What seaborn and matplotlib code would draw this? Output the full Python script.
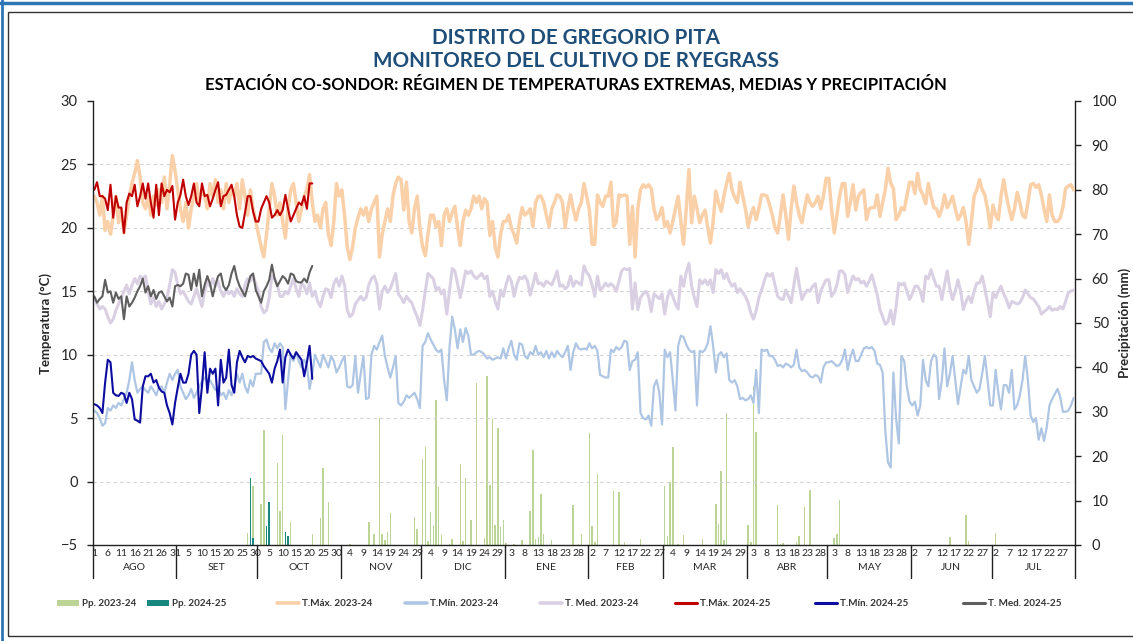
import numpy as np
import matplotlib
matplotlib.use("Agg")
import matplotlib.pyplot as plt
import matplotlib.transforms as mtransforms
import seaborn as sns
from matplotlib import font_manager
from matplotlib.patches import Patch, Rectangle
from matplotlib.lines import Line2D

# ---- datos ----
meses = ["AGO", "SET", "OCT", "NOV", "DIC", "ENE", "FEB", "MAR", "ABR", "MAY", "JUN", "JUL"]
dias_mes = [31, 30, 31, 30, 31, 31, 28, 31, 30, 31, 30, 31]

# T. max 2023-24 (diaria, ago -> jul)
tmax_2324 = [
    22.5, 22.0, 21.0, 22.5, 19.8, 20.5, 19.5, 21.0, 22.5, 20.4, 21.5, 19.6, 21.0, 22.5, 23.5, 24.3, 25.3, 24.0, 22.0, 21.5, 22.5, 21.0, 22.5, 21.8, 23.0, 22.0, 24.0, 21.5, 23.5, 25.7, 24.5,
    23.0, 21.5, 20.5, 22.0, 20.0, 21.5, 22.5, 23.5, 22.0, 23.0, 22.5, 21.5, 23.5, 22.5, 23.8, 22.0, 23.0, 21.5, 23.5, 22.0, 23.0, 22.5, 23.5, 21.5, 23.8, 22.5, 21.0, 23.0, 21.5, 20.5,
    19.5, 18.5, 17.7, 19.5, 21.5, 23.5, 22.5, 21.0, 22.0, 20.5, 19.2, 21.5, 23.0, 23.5, 22.0, 20.5, 21.5, 22.5, 23.0, 24.2, 22.0, 20.5, 21.0, 20.0, 21.5, 22.0, 19.5, 18.6, 20.5, 23.5, 22.5,
    23.0, 21.0, 18.5, 17.5, 18.5, 20.0, 20.8, 21.5, 21.0, 21.6, 20.5, 21.5, 22.0, 22.5, 17.7, 19.5, 20.5, 21.5, 20.5, 22.5, 23.5, 24.0, 23.8, 21.4, 23.6, 20.5, 19.6, 21.5, 22.5, 20.0,
    18.5, 17.8, 19.5, 21.0, 21.0, 20.1, 20.5, 18.6, 21.0, 21.5, 20.5, 21.2, 21.7, 20.0, 18.6, 20.5, 21.4, 21.0, 21.5, 22.5, 22.0, 22.5, 21.5, 22.3, 22.0, 19.4, 20.5, 18.5, 17.7, 19.5, 20.5,
    20.5, 21.0, 20.0, 19.5, 18.8, 20.5, 21.6, 21.0, 21.2, 21.5, 20.1, 22.0, 22.5, 22.5, 22.0, 21.0, 20.1, 21.5, 22.0, 22.6, 22.5, 22.0, 20.0, 21.5, 22.6, 21.5, 20.6, 21.5, 22.0, 23.5, 22.5,
    21.4, 18.7, 18.7, 22.6, 22.0, 21.7, 22.5, 22.5, 23.6, 20.1, 20.5, 22.6, 22.5, 22.6, 22.5, 18.7, 21.7, 17.7, 21.5, 23.0, 23.4, 23.2, 23.4, 23.1, 21.5, 20.65, 21.0, 21.6,
    20.1, 20.5, 19.6, 20.5, 21.5, 22.5, 20.5, 18.7, 21.5, 24.6, 20.4, 22.5, 21.5, 20.4, 21.0, 21.4, 20.0, 18.8, 20.5, 22.9, 22.0, 21.3, 22.5, 23.5, 24.3, 23.0, 22.4, 22.0, 23.6, 22.5, 21.5,
    20.1, 21.0, 21.6, 20.65, 21.5, 22.6, 22.6, 22.5, 21.8, 21.0, 20.0, 19.6, 21.0, 22.6, 21.0, 19.1, 21.5, 23.3, 22.0, 21.0, 20.4, 21.5, 22.6, 22.0, 21.7, 22.0, 22.5, 21.5, 22.5, 23.9,
    23.9, 21.5, 19.6, 21.0, 22.5, 23.5, 23.5, 20.9, 22.0, 23.4, 21.4, 22.5, 22.8, 23.0, 20.65, 21.5, 21.6, 21.6, 22.6, 20.9, 22.0, 23.0, 24.7, 23.5, 23.1, 20.65, 21.0, 21.6, 21.4, 22.5, 23.6,
    23.6, 22.7, 24.3, 23.0, 22.6, 21.9, 23.5, 22.5, 21.6, 21.5, 20.9, 21.5, 22.6, 21.6, 22.0, 22.5, 21.5, 20.65, 21.0, 21.6, 20.5, 18.7, 20.5, 22.5, 23.0, 23.8, 23.0, 22.6, 21.5, 20.0,
    21.8, 21.0, 20.65, 22.5, 23.8, 22.5, 21.5, 20.65, 21.5, 22.8, 22.0, 21.0, 20.8, 22.0, 23.4, 23.5, 23.2, 23.4, 22.6, 21.5, 20.5, 22.6, 21.0, 20.5, 20.5, 20.8, 21.6, 23.1, 23.3, 23.4, 23.0,
]

# T. media 2023-24
tmed_2324 = [
    14.5, 14.0, 13.6, 13.8, 13.6, 13.0, 12.5, 12.8, 13.5, 14.0, 14.5, 15.0, 15.5, 14.8, 15.5, 16.0, 15.6, 16.2, 16.0, 16.2, 15.0, 14.0, 14.5, 13.8, 14.2, 13.6, 14.0, 14.5, 15.5, 16.7, 16.5,
    15.5, 14.8, 15.0, 14.6, 14.2, 14.0, 14.6, 15.2, 14.5, 13.8, 15.0, 15.8, 15.4, 16.0, 15.4, 15.8, 15.0, 14.6, 15.2, 14.8, 15.0, 14.6, 15.2, 14.8, 14.6, 15.5, 16.0, 15.8, 16.2, 15.6,
    15.0, 13.8, 13.3, 13.5, 14.5, 16.2, 16.0, 15.5, 14.6, 14.6, 15.0, 14.8, 15.4, 16.0, 15.2, 14.6, 15.65, 15.4, 14.8, 15.65, 14.6, 15.0, 14.2, 13.8, 14.6, 15.2, 15.1, 14.5, 15.6, 16.0, 15.4,
    16.2, 15.5, 13.5, 13.0, 13.2, 14.0, 14.3, 14.6, 14.3, 14.5, 15.5, 16.0, 16.2, 15.6, 13.6, 15.0, 15.4, 14.9, 15.2, 15.8, 16.4, 14.8, 14.5, 14.1, 14.6, 14.3, 14.1, 13.5, 13.0, 12.3,
    13.5, 15.0, 16.4, 16.2, 16.0, 15.1, 15.3, 14.8, 15.1, 13.2, 15.0, 16.8, 16.6, 15.6, 14.5, 15.5, 16.6, 16.4, 16.6, 16.2, 16.0, 16.2, 16.4, 16.0, 16.2, 14.6, 15.0, 14.2, 13.6, 15.1, 14.6,
    15.5, 16.2, 15.8, 14.6, 15.5, 16.1, 16.0, 16.2, 15.8, 14.7, 15.5, 16.4, 15.6, 15.65, 15.4, 15.8, 15.65, 15.5, 16.0, 16.6, 15.4, 15.5, 15.2, 15.4, 16.2, 15.4, 15.8, 15.65, 15.5, 17.0, 16.5,
    16.2, 15.5, 14.6, 16.2, 15.1, 15.3, 15.65, 15.4, 15.6, 15.4, 15.0, 15.8, 16.6, 16.8, 16.7, 16.8, 13.6, 15.65, 13.55, 14.5, 14.8, 15.0, 14.6, 13.4, 14.8, 14.6, 14.4, 14.8,
    13.2, 14.5, 15.1, 14.6, 14.0, 13.6, 16.2, 15.4, 16.5, 17.2, 15.4, 14.5, 13.8, 15.9, 15.6, 15.9, 15.5, 15.9, 14.9, 16.7, 16.4, 16.7, 16.0, 16.4, 15.8, 15.4, 15.6, 14.9, 15.2, 14.9, 14.6,
    14.1, 13.3, 12.8, 13.5, 14.5, 15.1, 15.8, 16.4, 16.2, 16.4, 15.5, 14.6, 14.4, 14.35, 15.1, 14.6, 14.1, 15.5, 16.8, 15.5, 14.35, 14.8, 15.1, 15.0, 15.4, 15.6, 14.1, 15.0, 15.5, 15.9,
    15.9, 14.6, 14.9, 15.5, 16.6, 16.6, 16.3, 14.9, 15.6, 16.2, 15.9, 16.0, 15.65, 15.8, 15.4, 15.8, 16.3, 15.5, 14.75, 13.55, 13.0, 12.4, 12.6, 13.5, 12.4, 13.8, 15.65, 15.5, 15.65, 15.0, 14.35,
    14.8, 15.4, 15.4, 15.0, 14.2, 16.2, 16.0, 16.7, 16.0, 15.4, 15.4, 14.35, 15.5, 16.6, 15.2, 14.35, 15.0, 15.9, 15.0, 13.55, 14.2, 14.6, 14.1, 15.0, 15.65, 15.65, 16.2, 15.2, 14.1, 13.0,
    14.9, 14.5, 15.0, 15.4, 14.8, 14.35, 13.7, 14.2, 14.1, 14.0, 14.1, 14.5, 15.1, 14.8, 14.5, 14.4, 14.1, 13.8, 13.2, 13.4, 13.55, 13.8, 13.5, 13.6, 13.55, 13.8, 13.6, 14.2, 14.9, 15.0, 15.1,
]

# T. min 2023-24
tmin_2324 = [
    5.6, 5.4, 5.0, 4.4, 4.6, 5.8, 5.6, 6.0, 5.8, 6.2, 6.0, 6.5, 7.0, 8.0, 9.4, 8.0, 7.0, 7.3, 7.5, 7.2, 7.0, 7.5, 7.2, 6.8, 7.4, 7.5, 7.0, 7.8, 8.5, 8.0, 8.5,
    8.8, 7.5, 7.0, 6.5, 6.8, 7.3, 6.6, 7.0, 7.5, 7.9, 8.2, 7.9, 8.0, 7.6, 7.2, 7.5, 6.8, 7.0, 6.5, 7.2, 6.8, 7.5, 8.5, 7.8, 8.5, 7.5, 7.0, 8.0, 7.5, 8.5,
    8.5, 8.5, 11.0, 11.2, 10.5, 10.2, 10.9, 10.5, 10.9, 10.6, 5.7, 8.0, 10.0, 9.5, 10.2, 9.5, 9.0, 9.6, 9.2, 7.3, 8.5, 10.0, 9.5, 9.0, 10.0, 9.5, 9.0, 9.9, 9.5, 8.6, 9.0,
    9.5, 9.9, 7.5, 7.4, 7.6, 9.9, 7.0, 8.5, 9.9, 6.5, 6.6, 10.0, 10.7, 10.4, 11.0, 11.5, 9.9, 9.0, 8.2, 9.0, 9.9, 6.2, 6.0, 6.3, 6.8, 6.6, 6.8, 7.0, 6.5, 5.8,
    10.7, 11.0, 11.7, 11.2, 10.8, 10.4, 10.2, 10.4, 8.0, 6.4, 10.5, 13.0, 12.0, 10.5, 12.0, 11.0, 12.1, 11.5, 10.0, 10.0, 10.2, 10.3, 10.2, 10.0, 9.7, 9.8, 9.6, 9.7, 9.8, 9.7, 10.5,
    9.7, 10.5, 11.1, 10.0, 9.6, 10.9, 10.8, 9.9, 9.7, 10.2, 10.0, 10.7, 10.0, 10.2, 9.8, 10.3, 9.7, 10.2, 9.8, 10.3, 10.0, 9.8, 10.2, 10.7, 8.8, 10.2, 10.9, 10.5, 10.4, 10.5, 10.4,
    10.9, 10.5, 10.7, 10.3, 8.4, 8.3, 8.2, 8.2, 10.4, 10.2, 10.6, 10.4, 10.6, 11.1, 11.0, 8.8, 9.5, 9.6, 10.2, 5.4, 5.0, 4.9, 5.2, 4.4, 7.5, 8.0, 7.0, 4.5,
    10.4, 9.8, 10.2, 8.0, 5.6, 10.7, 11.5, 11.4, 10.8, 10.4, 10.2, 10.3, 6.0, 10.3, 10.2, 10.4, 10.9, 12.25, 10.7, 8.6, 10.0, 10.2, 9.8, 10.1, 8.0, 7.8, 8.0, 7.5, 6.5, 6.6, 6.4,
    6.5, 6.8, 6.2, 8.8, 5.4, 10.4, 10.3, 10.4, 9.9, 9.9, 9.6, 9.1, 9.2, 9.0, 9.3, 9.2, 9.0, 9.2, 10.4, 9.0, 8.7, 8.8, 8.6, 8.3, 8.2, 8.4, 8.3, 7.8, 9.0, 9.4,
    9.4, 9.5, 9.3, 9.1, 9.2, 9.6, 10.4, 8.8, 9.8, 10.4, 9.5, 9.5, 10.0, 10.5, 10.6, 10.5, 10.6, 10.3, 9.3, 9.2, 8.6, 4.0, 1.5, 1.1, 8.6, 5.0, 3.0, 9.9, 9.5, 7.5, 6.3,
    6.0, 6.3, 5.2, 6.0, 9.6, 8.0, 7.5, 9.5, 10.0, 9.8, 6.5, 8.0, 10.5, 7.5, 8.5, 9.9, 8.0, 6.1, 7.5, 8.8, 8.5, 9.9, 8.0, 7.5, 7.0, 7.3, 8.5, 9.9, 8.0, 6.0,
    6.0, 8.8, 7.0, 5.7, 7.6, 7.6, 7.0, 8.8, 5.7, 6.0, 6.8, 8.0, 9.9, 8.0, 5.2, 4.7, 5.0, 3.3, 4.2, 3.2, 4.3, 6.0, 6.5, 6.9, 7.3, 6.7, 5.5, 5.5, 5.6, 6.0, 6.6,
]

# campaña 2024-25 (1 ago - 21 oct)
tmax_2425 = [
    23.0, 23.6, 22.5, 22.5, 22.3, 21.4, 23.4, 20.8, 22.5, 21.6, 21.6, 19.6, 22.0, 22.7, 22.5, 23.4, 21.7, 22.5, 23.5, 22.3,
    23.5, 22.0, 20.8, 23.4, 21.0, 23.5, 22.5, 23.0, 22.8, 23.3, 20.65, 22.0, 22.6, 23.8, 22.5, 21.8, 22.5, 23.5, 22.0, 21.7,
    23.5, 22.5, 22.6, 21.7, 22.3, 23.0, 23.6, 21.7, 22.5, 22.6, 23.0, 23.4, 22.5, 21.0, 20.1, 20.0, 21.2, 22.5, 22.5, 21.3,
    20.5, 20.5, 21.5, 22.0, 22.5, 22.0, 20.8, 21.0, 21.4, 21.0, 21.4, 22.6, 21.5, 20.5, 21.0, 21.5, 22.0, 21.8, 22.5, 21.5,
    23.5, 23.5,
]
tmed_2425 = [
    14.6, 14.1, 14.4, 14.6, 15.9, 14.9, 15.0, 14.1, 14.9, 14.4, 14.6, 12.8, 14.6, 13.8, 14.1, 14.5, 15.0, 15.4, 16.0, 14.9,
    15.4, 14.6, 15.1, 14.4, 14.9, 15.0, 14.6, 14.2, 14.5, 13.8, 15.4, 15.5, 15.4, 15.6, 16.4, 16.3, 15.1, 16.4, 15.4, 16.7,
    14.6, 15.5, 16.2, 15.6, 14.6, 15.5, 16.2, 16.4, 15.4, 15.1, 15.5, 16.4, 17.0, 16.0, 15.4, 15.0, 14.6, 15.4, 16.2, 16.4,
    15.1, 14.6, 14.1, 15.0, 15.4, 15.9, 17.1, 16.0, 15.4, 15.8, 16.2, 16.0, 15.6, 16.4, 16.3, 15.8, 15.7, 15.7, 16.0, 15.7,
    16.5, 17.0,
]
tmin_2425 = [
    6.1, 6.0, 5.8, 5.4, 7.8, 9.6, 9.4, 7.0, 6.8, 6.75, 7.0, 6.9, 6.2, 7.0, 6.5, 4.9, 4.8, 4.65, 7.5, 8.3,
    8.3, 8.5, 7.8, 8.0, 7.4, 7.1, 7.0, 6.0, 5.4, 4.5, 6.2, 7.4, 8.5, 7.8, 7.8, 8.5, 10.0, 10.3, 10.0, 5.4,
    7.5, 10.2, 7.0, 8.9, 8.5, 8.9, 6.0, 9.6, 7.8, 8.2, 10.4, 7.6, 7.0, 9.4, 10.3, 9.8, 9.4, 9.9, 9.8, 9.9,
    9.7, 9.6, 9.5, 9.1, 8.8, 8.5, 7.8, 8.9, 9.5, 10.4, 7.8, 9.8, 10.4, 10.0, 9.7, 10.2, 9.9, 9.6, 8.3, 9.4,
    10.7, 8.1,
]

# precipitación (día del año agrícola desde 1 ago, mm)
pp_dias_2324 = [57, 59, 62, 63, 68, 69, 70, 73, 81, 84, 85, 87, 95, 102, 104, 106, 107, 108, 109, 110,
                119, 120, 122, 123, 124, 125, 126, 127, 128, 129, 132, 133, 136, 137, 138, 140, 142, 145, 146, 147,
                148, 149, 150, 151, 152, 153, 156, 159, 162, 163, 164, 165, 166, 167, 170, 178, 180, 181, 184, 185,
                186, 187, 193, 195, 197, 203, 212, 213, 214, 215, 217, 219, 226, 231, 232, 233, 234, 235, 243, 244,
                245, 246, 254, 255, 256, 261, 262, 264, 266, 275, 276, 277, 318, 324, 325, 335]
pp_mm_2324 = [2.6, 13.3, 9.2, 25.9, 18.4, 7.6, 24.8, 5.2, 2.5, 6.1, 17.3, 9.7, 0.2, 5.2, 2.4, 28.5, 2.4, 1.1, 2.9, 7.1,
              6.4, 3.6, 19.3, 22.0, 0.8, 7.5, 4.6, 32.7, 13.1, 2.2, 0.2, 1.3, 18.2, 1.0, 15.2, 5.6, 36.4, 1.6, 38.0, 13.5,
              28.3, 4.6, 26.3, 4.0, 5.6, 0.5, 0.15, 1.1, 7.7, 21.4, 1.4, 1.9, 11.4, 2.5, 1.1, 9.0, 0.2, 2.5, 25.3, 4.3,
              0.6, 16.1, 12.2, 12.0, 0.6, 1.3, 13.3, 2.0, 14.3, 22.0, 0.2, 2.3, 1.4, 9.2, 4.8, 16.7, 1.1, 29.7, 4.5, 0.6,
              35.8, 25.5, 9.0, 0.2, 0.4, 0.6, 2.0, 8.6, 12.4, 1.6, 2.5, 10.1, 1.9, 6.8, 0.8, 2.6]
pp_dias_2425 = [58, 59, 64, 65, 71, 72]
pp_mm_2425 = [15.0, 1.5, 4.3, 9.6, 2.9, 2.0]

# ---- estilo ----
sns.set_theme(style="white")
disponibles = {f.name for f in font_manager.fontManager.ttflist}
fuente = "Liberation Sans Narrow" if "Liberation Sans Narrow" in disponibles else "Lato"
plt.rcParams["font.family"] = [fuente, "DejaVu Sans"]

c_pp1, c_pp2 = "#BCD496", "#17877F"
c_max1, c_min1, c_med1 = "#FAD0A9", "#AEC6E3", "#DAD0E4"
c_max2, c_min2, c_med2 = "#C00000", "#0C0CA0", "#5E5E5E"
azul_titulo = "#1F4E79"

W, H = 1133, 641
fig = plt.figure(figsize=(W / 100, H / 100), dpi=100)
ax = fig.add_axes([93 / W, 1 - 545 / H, (1075 - 93) / W, 444 / H])
ax2 = ax.twinx()
ax.set_zorder(ax2.get_zorder() + 1)
ax.patch.set_visible(False)

dias = np.arange(sum(dias_mes))
dias_2425 = np.arange(len(tmax_2425))

# barras de precipitación (eje secundario)
ax2.bar(pp_dias_2324, pp_mm_2324, width=0.55, color=c_pp1, linewidth=0)
ax2.bar(pp_dias_2425, pp_mm_2425, width=0.55, color=c_pp2, linewidth=0)

# líneas de temperatura
sns.lineplot(x=dias, y=tmax_2324, ax=ax, color=c_max1, linewidth=2.5, estimator=None)
sns.lineplot(x=dias, y=tmed_2324, ax=ax, color=c_med1, linewidth=2.2, estimator=None)
sns.lineplot(x=dias, y=tmin_2324, ax=ax, color=c_min1, linewidth=1.6, estimator=None)
sns.lineplot(x=dias_2425, y=tmax_2425, ax=ax, color=c_max2, linewidth=1.5, estimator=None)
sns.lineplot(x=dias_2425, y=tmed_2425, ax=ax, color=c_med2, linewidth=1.5, estimator=None)
sns.lineplot(x=dias_2425, y=tmin_2425, ax=ax, color=c_min2, linewidth=1.5, estimator=None)

# ejes
ax.set_xlim(-0.5, len(dias) - 0.5)
ax.set_ylim(-5, 30)
ax2.set_ylim(0, 100)
ax.set_yticks(range(-5, 31, 5))
ax2.set_yticks(range(0, 101, 10))
ax.yaxis.grid(True, linestyle=(0, (3, 3)), color="#D3D3D3", linewidth=0.8)
ax.get_ygridlines()[-1].set_visible(False)
ax.get_ygridlines()[0].set_visible(False)

for s in ["top", "right"]:
    ax.spines[s].set_visible(False)
for s in ["top", "left", "bottom"]:
    ax2.spines[s].set_visible(False)
for s in ["left", "bottom"]:
    ax.spines[s].set_color("#222222")
    ax.spines[s].set_linewidth(1.0)
ax2.spines["right"].set_color("#222222")
ax2.spines["right"].set_linewidth(1.0)

ax.tick_params(axis="y", direction="out", length=4, width=1, color="#222222",
               labelsize=10.5, pad=7, left=True)
ax2.tick_params(axis="y", direction="out", length=4, width=1, color="#222222",
                labelsize=10.5, pad=8, right=True)
ax.set_ylabel("Temperatura (°C)", fontsize=9.5, fontweight="bold", labelpad=6)
ax2.set_ylabel("Precipitación (mm)", fontsize=9.5, fontweight="bold", labelpad=1)

# etiquetas de días (cada 5 días) y meses
dia_del_mes = np.concatenate([np.arange(1, n + 1) for n in dias_mes])
ax.set_xticks(dias[::5])
ax.set_xticklabels([str(d) for d in dia_del_mes[::5]])
ax.tick_params(axis="x", length=0, labelsize=7.5, pad=3)

trans = mtransforms.blended_transform_factory(ax.transData, ax.transAxes)
inicio = np.concatenate([[0], np.cumsum(dias_mes)])
for i, m in enumerate(meses):
    ax.text((inicio[i] + inicio[i + 1] - 1) / 2, -0.05, m, transform=trans,
            ha="center", va="center", fontsize=7.5)
for b in inicio:
    ax.add_line(Line2D([b - 0.5, b - 0.5], [0, -0.075], transform=trans,
                       color="#222222", lw=1, clip_on=False))

# títulos
fig.text(0.508, 1 - 38 / H, "DISTRITO DE GREGORIO PITA", ha="center", va="center",
         fontsize=14.9, fontweight="bold", color=azul_titulo)
fig.text(0.508, 1 - 61 / H, "MONITOREO DEL CULTIVO DE RYEGRASS", ha="center", va="center",
         fontsize=14.9, fontweight="bold", color=azul_titulo)
fig.text(0.508, 1 - 83 / H,
         "ESTACIÓN CO-SONDOR: RÉGIMEN DE TEMPERATURAS EXTREMAS, MEDIAS Y PRECIPITACIÓN",
         ha="center", va="center", fontsize=12, fontweight="bold", color="black")

# leyenda (posiciones como en el original)
entradas = [
    (Patch(facecolor=c_pp1, edgecolor="none"), "Pp. 2023-24", 57),
    (Patch(facecolor=c_pp2, edgecolor="none"), "Pp. 2024-25", 147),
    (Line2D([], [], color=c_max1, lw=2.6), "T.Máx. 2023-24", 277),
    (Line2D([], [], color=c_min1, lw=2.6), "T.Mín. 2023-24", 405),
    (Line2D([], [], color=c_med1, lw=2.6), "T. Med. 2023-24", 540),
    (Line2D([], [], color=c_max2, lw=2.2), "T.Máx. 2024-25", 675),
    (Line2D([], [], color=c_min2, lw=2.2), "T.Mín. 2024-25", 815),
    (Line2D([], [], color=c_med2, lw=2.2), "T. Med. 2024-25", 963),
]
for h, lab, x0 in entradas:
    leg = fig.legend([h], [lab], loc="center left", bbox_to_anchor=(x0 / W, 1 - 604 / H),
                     frameon=False, fontsize=7.1, handlelength=2.2, handleheight=0.65,
                     handletextpad=0.3, borderpad=0, borderaxespad=0)
    for t in leg.get_texts():
        t.set_fontweight("bold")
        t.set_color("#333333")

# marco
fig.add_artist(Rectangle((8 / W, 1 - 636 / H), 1.1, (636 - 12) / H, transform=fig.transFigure,
                         fill=False, edgecolor="#333333", lw=1))
fig.add_artist(Line2D([0, 1], [1 - 3 / H, 1 - 3 / H], transform=fig.transFigure, color="#2E75B6", lw=2.5))
fig.add_artist(Line2D([2 / W, 2 / W], [0, 1], transform=fig.transFigure, color="#2E75B6", lw=2.0))

fig.savefig("out.png", dpi=100)
